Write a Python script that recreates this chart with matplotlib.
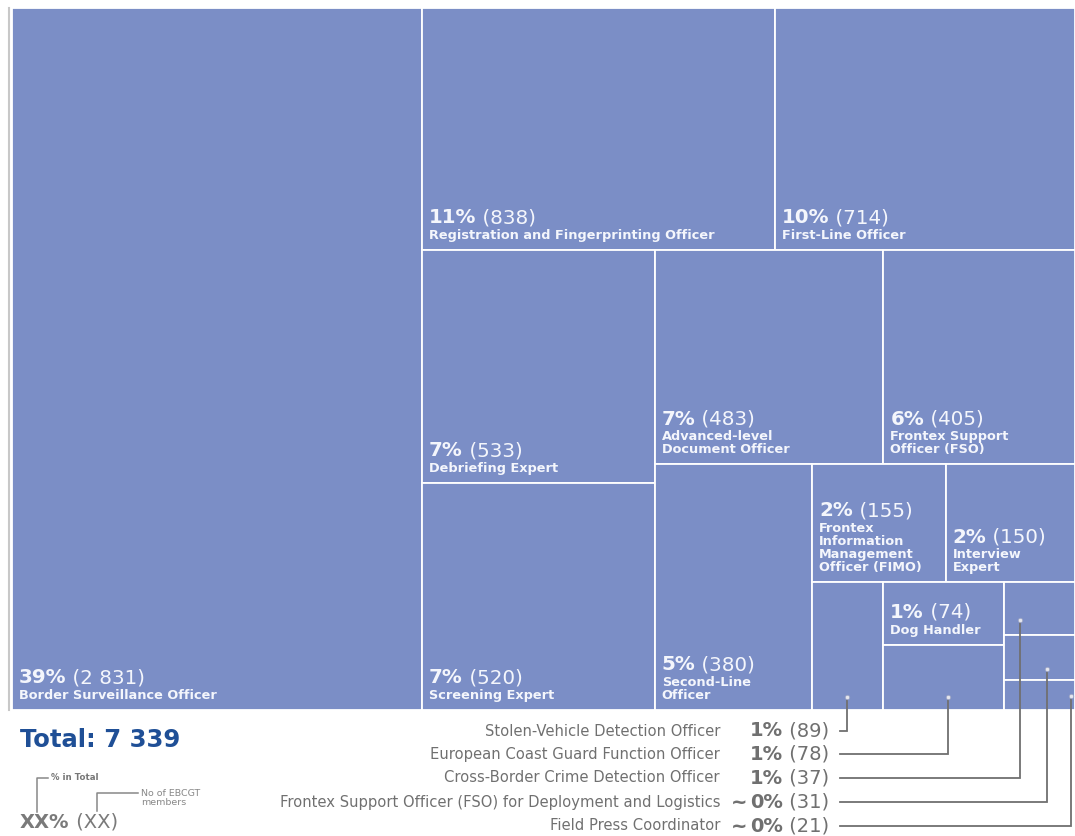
import matplotlib
matplotlib.use("Agg")
import matplotlib.pyplot as plt
from matplotlib.patches import Rectangle

# ---------------- data ----------------
names = [
    "Border Surveillance Officer",
    "Registration and Fingerprinting Officer",
    "First-Line Officer",
    "Debriefing Expert",
    "Screening Expert",
    "Advanced-level\nDocument Officer",
    "Frontex Support\nOfficer (FSO)",
    "Second-Line\nOfficer",
    "Frontex\nInformation\nManagement\nOfficer (FIMO)",
    "Interview\nExpert",
    "Stolen-Vehicle Detection Officer",
    "Dog Handler",
    "European Coast Guard Function Officer",
    "Cross-Border Crime Detection Officer",
    "Frontex Support Officer (FSO) for Deployment and Logistics",
    "Field Press Coordinator",
]
values = [2831, 838, 714, 533, 520, 483, 405, 380, 155, 150, 89, 74, 78, 37, 31, 21]
inside_label = [True] * 10 + [False, True, False, False, False, False]
# items labelled outside the map (indices), in listing order
outside_items = [10, 12, 13, 14, 15]
total = sum(values)

# layout tree: ('h', [...]) splits side by side, ('v', [...]) stacks top to bottom
tree = ('h', [0,
    ('v', [('h', [1, 2]),
           ('h', [('v', [3, 4]),
                  ('v', [('h', [5, 6]),
                         ('h', [7,
                                ('v', [('h', [8, 9]),
                                       ('h', [10, ('v', [11, 12]), ('v', [13, 14, 15])])])])])])])])

# ---------------- style ----------------
FILL = "#7b8ec6"
TXT = "#f4f6fc"
GREY = "#707070"
FONT = ["DejaVu Sans"]
W, H = 1075, 836
X0, Y0, X1, Y1 = 12, 8, 1075, 710

fig = plt.figure(figsize=(W / 100, H / 100), dpi=100)
ax = fig.add_axes([0, 0, 1, 1])
ax.set_xlim(0, W)
ax.set_ylim(H, 0)
ax.axis("off")


def size(node):
    if isinstance(node, int):
        return values[node]
    return sum(size(c) for c in node[1])


rects = {}


def layout(node, x, y, w, h):
    if isinstance(node, int):
        rects[node] = (x, y, w, h)
        return
    d, kids = node
    s = size(node)
    pos = 0.0
    for k in kids:
        f = size(k) / s
        if d == 'h':
            layout(k, x + pos * w, y, f * w, h)
        else:
            layout(k, x, y + pos * h, w, f * h)
        pos += f


layout(tree, X0, Y0, X1 - X0, Y1 - Y0)


def fmt_num(v):
    return f"{v:,}".replace(",", " ")


def pct_parts(v):
    p = v / total * 100
    if p < 0.5:
        return "~", "0%"
    return "", f"{int(p + 0.5)}%"


# left thin grey rule
ax.plot([9, 9], [Y0, Y1], color="#c8c8c8", lw=1.5)

for i, v in enumerate(values):
    x, y, w, h = rects[i]
    ax.add_patch(Rectangle((x, y), w, h, facecolor=FILL, edgecolor="white", lw=1.3))
    if inside_label[i]:
        nt = ax.text(x + 7, y + h - 8, names[i], color=TXT, fontsize=9.3,
                     fontweight="bold", family=FONT, ha="left", va="bottom",
                     linespacing=1.02)
        pt = ax.annotate(pct_parts(v)[1], xy=(0, 1), xycoords=nt, xytext=(0, 1.2),
                         textcoords="offset points", color=TXT, fontsize=14.3,
                         fontweight="bold", family=FONT, ha="left", va="bottom")
        ax.annotate(" (" + fmt_num(v) + ")", xy=(1, 0), xycoords=pt,
                    color=TXT, fontsize=14.3, family=FONT, ha="left", va="bottom")

# outside labels with leader lines
row_y = [731, 754, 778, 802, 826]
dot_frac = {10: (0.5, 0.9), 12: (0.54, 0.8), 13: (0.22, 0.7), 14: (0.6, 0.75), 15: (0.95, 0.55)}
for k, i in enumerate(outside_items):
    yy = row_y[k]
    ax.text(720, yy, names[i], color=GREY, fontsize=10.6, family=FONT,
            ha="right", va="center")
    tilde, pc = pct_parts(values[i])
    if tilde:
        ax.text(747, yy, tilde, color=GREY, fontsize=14, fontweight="bold",
                family=FONT, ha="right", va="center")
    pt = ax.text(750, yy, pc, color=GREY, fontsize=14,
                 fontweight="bold", family=FONT, ha="left", va="center")
    ax.annotate(" (" + fmt_num(values[i]) + ")", xy=(1, 0), xycoords=pt,
                color=GREY, fontsize=14, family=FONT, ha="left", va="bottom")
    x, y, w, h = rects[i]
    fx, fy = dot_frac[i]
    dx, dy = x + fx * w, y + fy * h
    ax.plot([840, dx, dx], [yy, yy, dy], color=GREY, lw=1.3, solid_joinstyle="miter")
    ax.plot([dx], [dy], marker="o", ms=3.2, color="#e4e6ee", mec="#9aa3c4", mew=0.6)

# total
ax.text(20, 740, "Total: " + fmt_num(total), color="#1f4f96", fontsize=17.5,
        fontweight="bold", family=FONT, ha="left", va="center")

# key
kt = ax.text(20, 822, "XX%", color="#7a7a7a", fontsize=14, fontweight="bold",
             family=FONT, ha="left", va="center")
ax.annotate(" (XX)", xy=(1, 0), xycoords=kt, color="#7a7a7a", fontsize=14,
            family=FONT, ha="left", va="bottom")
ax.plot([37, 37, 48], [812, 778, 778], color="#888888", lw=1.1)
ax.text(51, 778, "% in Total", color="#777777", fontsize=6.2, fontweight="bold",
        family=FONT, ha="left", va="center")
ax.plot([97, 97, 138], [811, 793, 793], color="#888888", lw=1.1)
ax.text(141, 798, "No of EBCGT\nmembers", color="#888888", fontsize=6.8,
        family=FONT, ha="left", va="center", linespacing=1.0)

fig.savefig("out.png", dpi=100, facecolor="white")
